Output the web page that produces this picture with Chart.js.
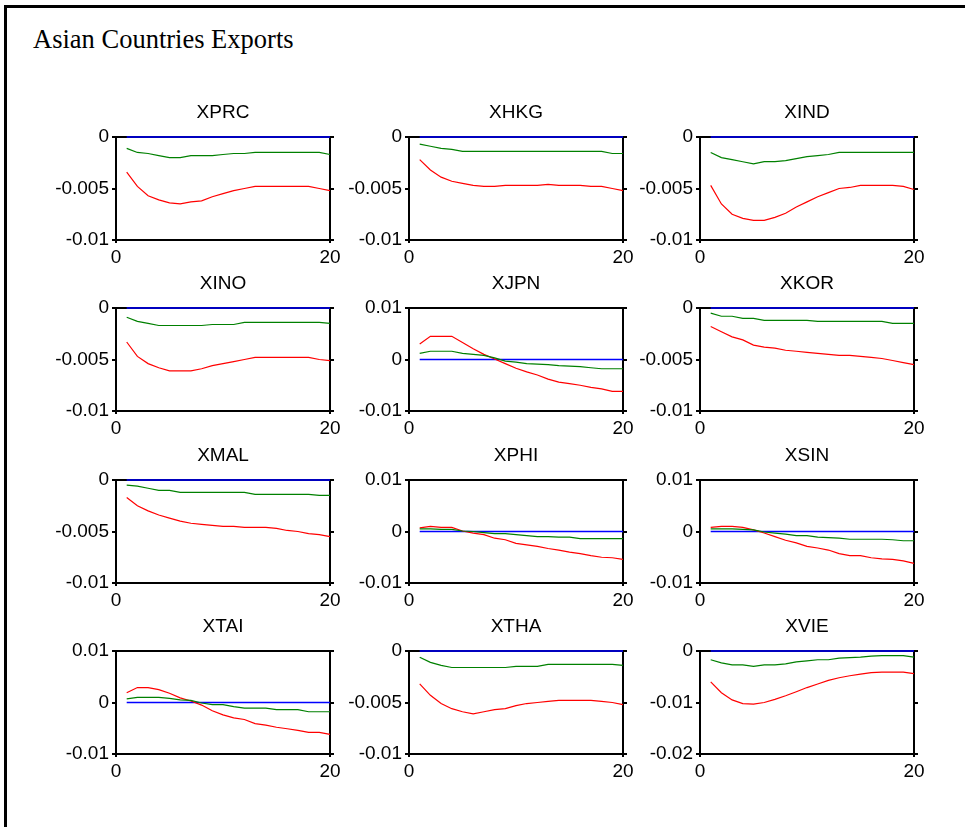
<!DOCTYPE html>
<html>
<head>
<meta charset="utf-8">
<script src="https://cdn.jsdelivr.net/npm/chart.js@4/dist/chart.umd.min.js"></script>
<style>
  html, body { margin: 0; padding: 0; background: #fff; width: 965px; height: 827px; overflow: hidden; }
  #frame { position: absolute; left: 4px; top: 5px; width: 990px; height: 850px;
           border-left: 3px solid #000; border-top: 3px solid #000; }
  #heading { position: absolute; left: 33px; top: 26px; font-family: "Liberation Serif", "Times New Roman", serif;
             font-size: 26.5px; line-height: 26px; color: #000; white-space: nowrap; }
  canvas { position: absolute; }
</style>
</head>
<body>
<div id="frame"></div>
<div id="heading">Asian Countries Exports</div>
<script>
// Horizon (periods after the shock)
const periods = [1, 2, 3, 4, 5, 6, 7, 8, 9, 10, 11, 12, 13, 14, 15, 16, 17, 18, 19, 20];
const xTicks = [0, 20];

// Y tick sets
const ticksNeg = [-0.01, -0.005, 0];
const ticksSym = [-0.01, 0, 0.01];
const ticksVie = [-0.02, -0.01, 0];

// Blue response: zero throughout
const blueResp = [0, 0, 0, 0, 0, 0, 0, 0, 0, 0, 0, 0, 0, 0, 0, 0, 0, 0, 0, 0];

// Responses per country (red and green series)
const xprcRed   = [-0.0034, -0.0048, -0.0057, -0.0061, -0.0064, -0.0065, -0.0063, -0.0062, -0.0058, -0.0055, -0.0052, -0.0050, -0.0048, -0.0048, -0.0048, -0.0048, -0.0048, -0.0048, -0.0050, -0.0052];
const xprcGreen = [-0.0011, -0.0015, -0.0016, -0.0018, -0.0020, -0.0020, -0.0018, -0.0018, -0.0018, -0.0017, -0.0016, -0.0016, -0.0015, -0.0015, -0.0015, -0.0015, -0.0015, -0.0015, -0.0015, -0.0017];

const xhkgRed   = [-0.0022, -0.0032, -0.0039, -0.0043, -0.0045, -0.0047, -0.0048, -0.0048, -0.0047, -0.0047, -0.0047, -0.0047, -0.0046, -0.0047, -0.0047, -0.0047, -0.0048, -0.0048, -0.0050, -0.0052];
const xhkgGreen = [-0.0007, -0.0009, -0.0011, -0.0012, -0.0014, -0.0014, -0.0014, -0.0014, -0.0014, -0.0014, -0.0014, -0.0014, -0.0014, -0.0014, -0.0014, -0.0014, -0.0014, -0.0014, -0.0016, -0.0016];

const xindRed   = [-0.0047, -0.0065, -0.0075, -0.0079, -0.0081, -0.0081, -0.0078, -0.0074, -0.0068, -0.0063, -0.0058, -0.0054, -0.0050, -0.0049, -0.0047, -0.0047, -0.0047, -0.0047, -0.0048, -0.0051];
const xindGreen = [-0.0015, -0.0020, -0.0022, -0.0024, -0.0026, -0.0024, -0.0024, -0.0023, -0.0021, -0.0019, -0.0018, -0.0017, -0.0015, -0.0015, -0.0015, -0.0015, -0.0015, -0.0015, -0.0015, -0.0015];

const xinoRed   = [-0.0033, -0.0047, -0.0054, -0.0058, -0.0061, -0.0061, -0.0061, -0.0059, -0.0056, -0.0054, -0.0052, -0.0050, -0.0048, -0.0048, -0.0048, -0.0048, -0.0048, -0.0048, -0.0050, -0.0051];
const xinoGreen = [-0.0009, -0.0013, -0.0015, -0.0017, -0.0017, -0.0017, -0.0017, -0.0017, -0.0016, -0.0016, -0.0016, -0.0014, -0.0014, -0.0014, -0.0014, -0.0014, -0.0014, -0.0014, -0.0014, -0.0015];

const xjpnRed   = [0.0030, 0.0045, 0.0045, 0.0045, 0.0033, 0.0021, 0.0010, 0.0001, -0.0008, -0.0017, -0.0024, -0.0030, -0.0038, -0.0044, -0.0047, -0.0050, -0.0054, -0.0057, -0.0062, -0.0062];
const xjpnGreen = [0.0012, 0.0016, 0.0016, 0.0016, 0.0012, 0.0010, 0.0008, 0.0003, -0.0003, -0.0005, -0.0008, -0.0009, -0.0010, -0.0012, -0.0013, -0.0014, -0.0016, -0.0018, -0.0018, -0.0018];

const xkorRed   = [-0.0018, -0.0023, -0.0028, -0.0031, -0.0036, -0.0038, -0.0039, -0.0041, -0.0042, -0.0043, -0.0044, -0.0045, -0.0046, -0.0046, -0.0047, -0.0048, -0.0049, -0.0051, -0.0053, -0.0055];
const xkorGreen = [-0.0005, -0.0008, -0.0008, -0.0010, -0.0010, -0.0012, -0.0012, -0.0012, -0.0012, -0.0012, -0.0013, -0.0013, -0.0013, -0.0013, -0.0013, -0.0013, -0.0013, -0.0015, -0.0015, -0.0015];

const xmalRed   = [-0.0017, -0.0025, -0.0030, -0.0034, -0.0037, -0.0040, -0.0042, -0.0043, -0.0044, -0.0045, -0.0045, -0.0046, -0.0046, -0.0046, -0.0047, -0.0049, -0.0050, -0.0052, -0.0053, -0.0055];
const xmalGreen = [-0.0005, -0.0006, -0.0008, -0.0010, -0.0010, -0.0012, -0.0012, -0.0012, -0.0012, -0.0012, -0.0012, -0.0012, -0.0014, -0.0014, -0.0014, -0.0014, -0.0014, -0.0014, -0.0015, -0.0015];

const xphiRed   = [0.0007, 0.0010, 0.0008, 0.0008, 0.0001, -0.0003, -0.0006, -0.0013, -0.0016, -0.0023, -0.0026, -0.0029, -0.0033, -0.0036, -0.0040, -0.0043, -0.0047, -0.0050, -0.0051, -0.0054];
const xphiGreen = [0.0005, 0.0005, 0.0004, 0.0004, 0.0001, 0.0000, -0.0002, -0.0004, -0.0004, -0.0006, -0.0008, -0.0010, -0.0010, -0.0011, -0.0011, -0.0014, -0.0014, -0.0014, -0.0014, -0.0014];

const xsinRed   = [0.0008, 0.0010, 0.0010, 0.0008, 0.0003, -0.0003, -0.0010, -0.0017, -0.0022, -0.0029, -0.0032, -0.0036, -0.0043, -0.0047, -0.0047, -0.0051, -0.0053, -0.0054, -0.0057, -0.0062];
const xsinGreen = [0.0005, 0.0005, 0.0005, 0.0004, 0.0003, -0.0001, -0.0003, -0.0005, -0.0008, -0.0008, -0.0011, -0.0012, -0.0013, -0.0015, -0.0015, -0.0015, -0.0015, -0.0016, -0.0018, -0.0018];

const xtaiRed   = [0.0019, 0.0029, 0.0029, 0.0025, 0.0018, 0.0009, 0.0003, -0.0005, -0.0016, -0.0024, -0.0030, -0.0033, -0.0041, -0.0044, -0.0048, -0.0051, -0.0054, -0.0058, -0.0058, -0.0062];
const xtaiGreen = [0.0007, 0.0010, 0.0010, 0.0010, 0.0008, 0.0005, 0.0004, -0.0001, -0.0004, -0.0004, -0.0008, -0.0011, -0.0011, -0.0011, -0.0014, -0.0014, -0.0014, -0.0018, -0.0018, -0.0018];

const xthaRed   = [-0.0032, -0.0043, -0.0051, -0.0056, -0.0059, -0.0061, -0.0059, -0.0057, -0.0056, -0.0053, -0.0051, -0.0050, -0.0049, -0.0048, -0.0048, -0.0048, -0.0048, -0.0049, -0.0050, -0.0052];
const xthaGreen = [-0.0006, -0.0011, -0.0014, -0.0016, -0.0016, -0.0016, -0.0016, -0.0016, -0.0016, -0.0015, -0.0015, -0.0015, -0.0013, -0.0013, -0.0013, -0.0013, -0.0013, -0.0013, -0.0013, -0.0014];

const xvieRed   = [-0.0060, -0.0081, -0.0095, -0.0102, -0.0103, -0.0100, -0.0094, -0.0087, -0.0079, -0.0071, -0.0064, -0.0057, -0.0052, -0.0048, -0.0045, -0.0042, -0.0041, -0.0041, -0.0041, -0.0044];
const xvieGreen = [-0.0017, -0.0023, -0.0027, -0.0027, -0.0030, -0.0027, -0.0027, -0.0025, -0.0021, -0.0019, -0.0017, -0.0017, -0.0014, -0.0013, -0.0012, -0.0010, -0.0009, -0.0009, -0.0009, -0.0012];

// Panel geometry
const colLeft = [116, 409, 700];
const rowTop = [137, 308, 480, 651];
const PLOT_W = 214, PLOT_H = 103;
const AXIS_W = 72, TOP_SPACE = 40, BOTTOM_SPACE = 30, RIGHT_SPACE = 16;
const FONT = { family: '"Liberation Sans", Arial, sans-serif', size: 19, weight: 'normal' };

const fmt = v => String(parseFloat(Number(v).toFixed(4)));
const fixTicks = vals => scale => { scale.ticks = vals.map(v => ({ value: v })); };
const toPts = vals => vals.map((v, i) => ({ x: periods[i], y: v }));

function makePanel(name, red, green, yTicks, col, row) {
  const canvas = document.createElement('canvas');
  canvas.width = AXIS_W + PLOT_W + RIGHT_SPACE;
  canvas.height = TOP_SPACE + PLOT_H + BOTTOM_SPACE;
  canvas.style.left = (colLeft[col] - AXIS_W) + 'px';
  canvas.style.top = (rowTop[row] - TOP_SPACE) + 'px';
  document.body.appendChild(canvas);

  const yMin = Math.min(...yTicks), yMax = Math.max(...yTicks);
  const tickGrid = { display: true, drawOnChartArea: false, drawTicks: true, tickLength: 4, color: '#000', lineWidth: 2 };

  new Chart(canvas, {
    type: 'line',
    data: {
      datasets: [
        { data: toPts(green), borderColor: '#008000', borderWidth: 1.2, clip: false },
        { data: toPts(red), borderColor: '#ff0000', borderWidth: 1.2, clip: false },
        { data: toPts(blueResp), borderColor: '#0000ff', borderWidth: 1.4, clip: false }
      ]
    },
    options: {
      responsive: false,
      animation: false,
      devicePixelRatio: 1,
      layout: { autoPadding: false, padding: { top: 4, left: 0, right: RIGHT_SPACE, bottom: 0 } },
      elements: { point: { radius: 0 }, line: { tension: 0 } },
      plugins: {
        legend: { display: false },
        tooltip: { enabled: false },
        title: {
          display: true, text: name, fullSize: false, color: '#000',
          font: FONT, padding: { top: 0, bottom: 13.2 }
        }
      },
      scales: {
        x: {
          type: 'linear', position: 'bottom', min: 0, max: 20,
          afterBuildTicks: fixTicks(xTicks),
          afterFit: s => { s.height = BOTTOM_SPACE; },
          grid: { display: true, drawOnChartArea: false, drawTicks: true, tickLength: 3, color: '#000', lineWidth: 2 },
          border: { display: true, color: '#000', width: 2 },
          ticks: { color: '#000', font: FONT, padding: 3, maxRotation: 0, autoSkip: false, callback: v => fmt(v) }
        },
        x2: {
          type: 'linear', position: 'top', min: 0, max: 20,
          afterFit: s => { s.height = 0; },
          grid: { display: false },
          border: { display: true, color: '#000', width: 2 },
          ticks: { display: false }
        },
        y: {
          type: 'linear', position: 'left', min: yMin, max: yMax,
          afterBuildTicks: fixTicks(yTicks),
          afterFit: s => { s.width = AXIS_W; },
          grid: tickGrid,
          border: { display: true, color: '#000', width: 2 },
          ticks: { color: '#000', font: FONT, padding: 3, autoSkip: false, callback: v => fmt(v) }
        },
        y2: {
          type: 'linear', position: 'right', min: yMin, max: yMax,
          afterBuildTicks: fixTicks(yTicks),
          afterFit: s => { s.width = 0; },
          grid: tickGrid,
          border: { display: true, color: '#000', width: 2 },
          ticks: { display: false }
        }
      }
    }
  });
}

makePanel('XPRC', xprcRed, xprcGreen, ticksNeg, 0, 0);
makePanel('XHKG', xhkgRed, xhkgGreen, ticksNeg, 1, 0);
makePanel('XIND', xindRed, xindGreen, ticksNeg, 2, 0);
makePanel('XINO', xinoRed, xinoGreen, ticksNeg, 0, 1);
makePanel('XJPN', xjpnRed, xjpnGreen, ticksSym, 1, 1);
makePanel('XKOR', xkorRed, xkorGreen, ticksNeg, 2, 1);
makePanel('XMAL', xmalRed, xmalGreen, ticksNeg, 0, 2);
makePanel('XPHI', xphiRed, xphiGreen, ticksSym, 1, 2);
makePanel('XSIN', xsinRed, xsinGreen, ticksSym, 2, 2);
makePanel('XTAI', xtaiRed, xtaiGreen, ticksSym, 0, 3);
makePanel('XTHA', xthaRed, xthaGreen, ticksNeg, 1, 3);
makePanel('XVIE', xvieRed, xvieGreen, ticksVie, 2, 3);
</script>
</body>
</html>
